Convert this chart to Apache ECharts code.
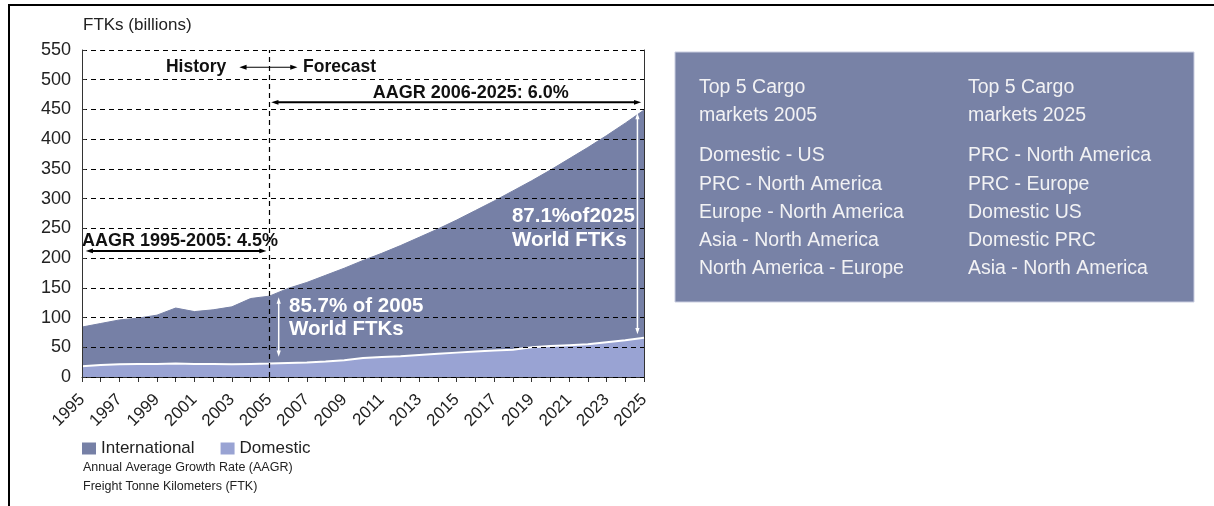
<!DOCTYPE html>
<html>
<head>
<meta charset="utf-8">
<script src="https://cdn.jsdelivr.net/npm/echarts@6/dist/echarts.min.js"></script>
<style>
  html, body { margin: 0; padding: 0; background: #fff; }
  #chart { width: 1214px; height: 506px; }
</style>
</head>
<body>
<div id="chart"></div>
<script>
const years = ['1995', '1996', '1997', '1998', '1999', '2000', '2001', '2002', '2003', '2004', '2005',
  '2006', '2007', '2008', '2009', '2010', '2011', '2012', '2013', '2014', '2015',
  '2016', '2017', '2018', '2019', '2020', '2021', '2022', '2023', '2024', '2025'];
const domestic = [18, 20, 21.5, 22, 22, 22.5, 22, 22, 21.5, 22, 22.5,
  23.5, 24.5, 26, 28, 32, 33.5, 35, 37, 39, 41,
  43, 44.5, 46, 50, 52, 53.5, 55, 58.5, 62, 66];
const international = [66, 70, 74.5, 77, 82, 93.5, 88, 91, 96.5, 110, 113.5,
  125.5, 134.5, 145, 155, 164, 174.5, 186, 198, 210, 223,
  237, 251.5, 267, 280, 296, 313.5, 331, 347.5, 365, 383];
const yTicks = [0, 50, 100, 150, 200, 250, 300, 350, 400, 450, 500, 550];
const markets2005 = ['Domestic - US', 'PRC - North America', 'Europe - North America', 'Asia - North America', 'North America - Europe'];
const markets2025 = ['PRC - North America', 'PRC - Europe', 'Domestic US', 'Domestic PRC', 'Asia - North America'];

const FONT = '"Liberation Sans", Arial, Helvetica, sans-serif';
const chart = echarts.init(document.getElementById('chart'), null, { renderer: 'canvas' });

const option = {
  animation: false,
  backgroundColor: '#fff',
  title: {
    text: 'FTKs (billions)', left: 78, top: 12,
    textStyle: { fontSize: 17, fontWeight: 'normal', color: '#222', fontFamily: FONT }
  },
  legend: {
    data: ['International', 'Domestic'],
    left: 77, top: 435, icon: 'rect', itemWidth: 14, itemHeight: 12, itemGap: 26,
    textStyle: { fontSize: 17, color: '#222', fontFamily: FONT }
  },
  grid: { left: 82, right: 570, top: 50, bottom: 129, containLabel: false },
  xAxis: {
    type: 'category', data: years, boundaryGap: false,
    axisLine: { show: true, lineStyle: { color: '#333', width: 1 } },
    axisTick: { show: true, inside: false, length: 5, interval: 0, lineStyle: { color: '#333' } },
    splitLine: { show: false },
    axisLabel: { rotate: 45, interval: 1, fontSize: 17, color: '#222', fontFamily: FONT, margin: 20 }
  },
  yAxis: [{
    type: 'value', min: yTicks[0], max: yTicks[yTicks.length - 1], interval: 50, z: 5,
    axisLine: { show: true, lineStyle: { color: '#333', width: 1 } },
    axisTick: { show: true, inside: true, length: 4, lineStyle: { color: '#333' } },
    splitLine: { show: true, lineStyle: { color: '#000', type: [5, 4], width: 1 } },
    axisLabel: { fontSize: 18, color: '#222', fontFamily: FONT, margin: 11 }
  }, {
    type: 'value', min: yTicks[0], max: yTicks[yTicks.length - 1], interval: 50, position: 'right',
    axisLine: { show: true, lineStyle: { color: '#333', width: 1 } },
    axisTick: { show: false }, axisLabel: { show: false }, splitLine: { show: false }
  }],
  series: [{
    name: 'Domestic', type: 'line', stack: 'total', z: 3,
    data: domestic,
    symbol: 'none', smooth: false,
    color: '#99A3D3',
    itemStyle: { color: '#99A3D3' },
    lineStyle: { color: '#ffffff', width: 2 },
    areaStyle: { color: '#99A3D3', opacity: 1 }
  }, {
    name: 'International', type: 'line', stack: 'total', z: 2,
    data: international,
    symbol: 'none', smooth: false,
    color: '#7680A6',
    itemStyle: { color: '#7680A6' },
    lineStyle: { color: '#7680A6', width: 1 },
    areaStyle: { color: '#7680A6', opacity: 1 },
    markLine: {
      silent: true, symbol: ['none', 'none'], label: { show: false },
      lineStyle: { color: '#000', type: [5, 4], width: 1.2 },
      data: [{ xAxis: '2005' }]
    }
  }]
};
chart.setOption(option);

// pixel position for a (possibly fractional) year and a value
function P(year, v) {
  const i = year - Number(years[0]);
  const i0 = Math.floor(i), i1 = Math.ceil(i);
  const a = chart.convertToPixel({ gridIndex: 0 }, [i0, v]);
  const b = chart.convertToPixel({ gridIndex: 0 }, [i1, v]);
  const t = i - i0;
  return [a[0] + (b[0] - a[0]) * t, a[1]];
}

function arrow(a, b, color, width, hs) {
  const dx = b[0] - a[0], dy = b[1] - a[1];
  const len = Math.hypot(dx, dy), ux = dx / len, uy = dy / len;
  const nx = -uy, ny = ux;
  const head = (tip, dir) => {
    const bx = tip[0] - dir * ux * hs * 1.8, by = tip[1] - dir * uy * hs * 1.8;
    return {
      type: 'polygon', silent: true, z: 20,
      shape: { points: [[tip[0], tip[1]], [bx + nx * hs * 0.6, by + ny * hs * 0.6], [bx - nx * hs * 0.6, by - ny * hs * 0.6]] },
      style: { fill: color }
    };
  };
  return [{
    type: 'line', silent: true, z: 20,
    shape: { x1: a[0] + ux * hs, y1: a[1] + uy * hs, x2: b[0] - ux * hs, y2: b[1] - uy * hs },
    style: { stroke: color, lineWidth: width }
  }, head(b, 1), head(a, -1)];
}
function txt(p, text, font, fill, align) {
  return {
    type: 'text', silent: true, z: 21, x: p[0], y: p[1],
    style: { text, font, fill, align: align || 'left', verticalAlign: 'middle' }
  };
}

const BOLDS = 'bold 17.5px ' + FONT;
const BOLDA = 'bold 18px ' + FONT;
const BOLDW = 'bold 20.5px ' + FONT;
const g = [];
// History / Forecast
g.push(...arrow(P(2003.4, 521), P(2006.5, 521), '#000', 1.2, 4));
g.push(txt(P(2002.7, 521), 'History', BOLDS, '#111', 'right'));
g.push(txt(P(2006.8, 521), 'Forecast', BOLDS, '#111', 'left'));
// AAGR 2006-2025
g.push(txt(P(2015.75, 478), 'AAGR 2006-2025: 6.0%', BOLDA, '#111', 'center'));
g.push(...arrow(P(2005.1, 462), P(2024.85, 462), '#000', 2, 4));
// AAGR 1995-2005
g.push(txt(P(1995.0, 229), 'AAGR 1995-2005: 4.5%', BOLDA, '#111', 'left'));
g.push(...arrow(P(1995.2, 212), P(2004.85, 212), '#000', 2, 4));
// 85.7% of 2005
g.push(...arrow(P(2005.5, 134), P(2005.5, 34), '#fff', 1.5, 3.5));
g.push(txt(P(2006.05, 119), '85.7% of 2005', BOLDW, '#fff', 'left'));
g.push(txt(P(2006.05, 80), 'World FTKs', BOLDW, '#fff', 'left'));
// 87.1% of 2025
g.push(...arrow(P(2024.65, 444), P(2024.65, 72), '#fff', 1.5, 3.5));
g.push(txt(P(2017.95, 270), '87.1%of2025', BOLDW, '#fff', 'left'));
g.push(txt(P(2017.95, 230), 'World FTKs', BOLDW, '#fff', 'left'));

// Footnotes
g.push(txt([83, 468], 'Annual Average Growth Rate (AAGR)', '12.5px ' + FONT, '#222', 'left'));
g.push(txt([83, 487], 'Freight Tonne Kilometers (FTK)', '12.5px ' + FONT, '#222', 'left'));

// Outer frame (top and left edges)
g.push({ type: 'polyline', silent: true, z: 30, shape: { points: [[9, 506], [9, 5], [1214, 5]] }, style: { stroke: '#000', lineWidth: 2, fill: null } });

// Right box
g.push({ type: 'rect', silent: true, z: 10, shape: { x: 675, y: 52, width: 519, height: 250 }, style: { fill: '#7882A6', stroke: '#C9CDE0', lineWidth: 1 } });
const BOX = '19.5px ' + FONT, BOXC = '#F2F2F4';
g.push(txt([699, 88], 'Top 5 Cargo', BOX, BOXC));
g.push(txt([699, 116], 'markets 2005', BOX, BOXC));
g.push(txt([968, 88], 'Top 5 Cargo', BOX, BOXC));
g.push(txt([968, 116], 'markets 2025', BOX, BOXC));
markets2005.forEach((m, i) => g.push(txt([699, 156 + i * 28.2], m, BOX, BOXC)));
markets2025.forEach((m, i) => g.push(txt([968, 156 + i * 28.2], m, BOX, BOXC)));

chart.setOption({ graphic: { elements: g } });
</script>
</body>
</html>
